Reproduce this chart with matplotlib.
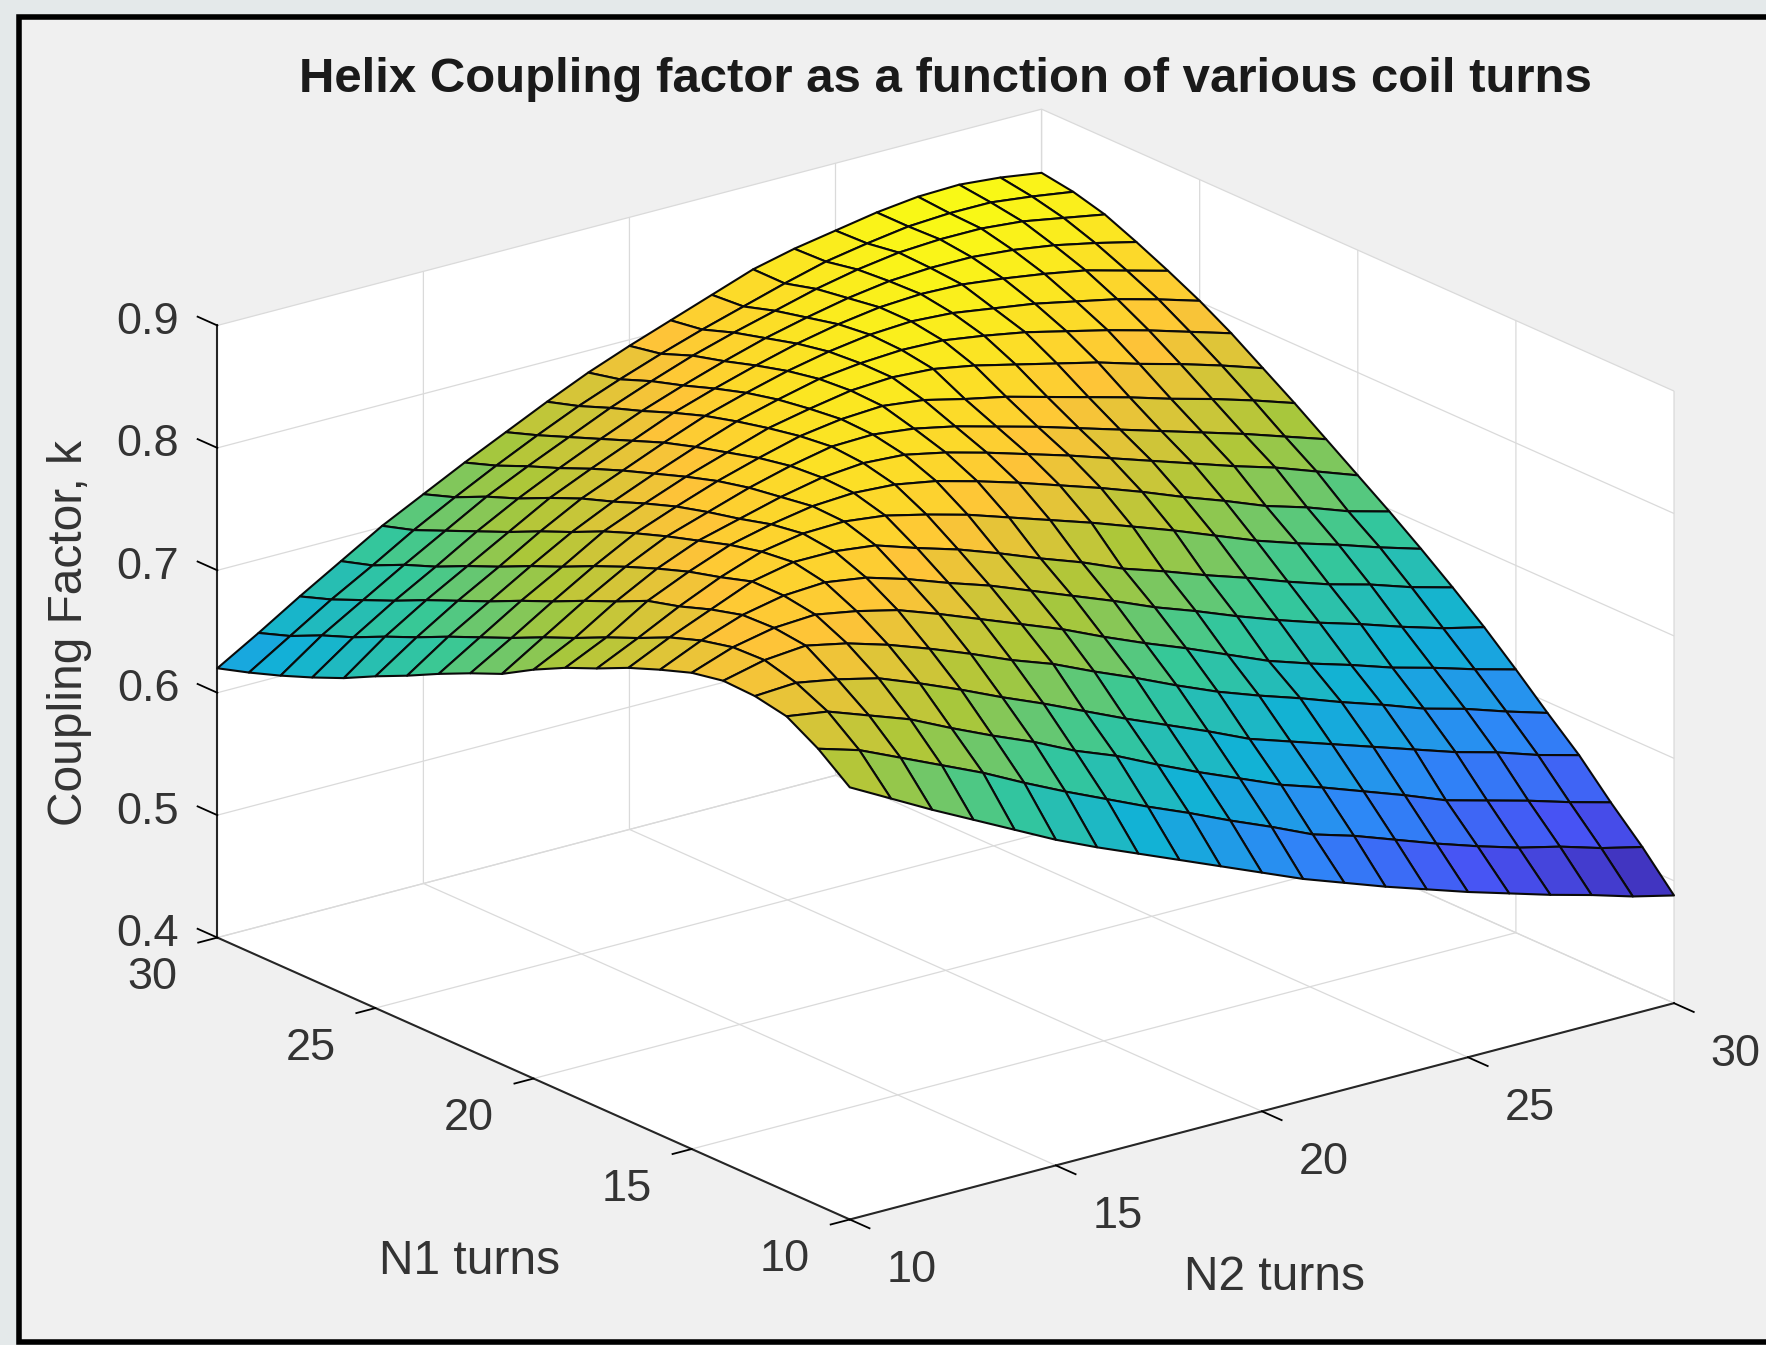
import numpy as np
import matplotlib
matplotlib.use("Agg")
import matplotlib.pyplot as plt
from matplotlib.colors import LinearSegmentedColormap
from matplotlib.patches import Rectangle

# N1 is the row, N2 the column
n1_turns = list(range(10, 31))
n2_turns = list(range(10, 31))

k_n1_10 = [.753, .735, .717, .700, .683, .666, .651, .637, .623, .609, .595, .581, .569, .557, .546, .535, .525, .515, .506, .496, .488]
k_n1_11 = [.773, .763, .748, .733, .718, .701, .685, .670, .655, .641, .626, .612, .597, .587, .575, .563, .552, .542, .534, .524, .516]
k_n1_12 = [.788, .783, .771, .759, .743, .728, .714, .698, .685, .669, .654, .640, .626, .615, .603, .591, .578, .569, .560, .550, .541]
k_n1_13 = [.793, .795, .789, .781, .768, .754, .739, .725, .710, .695, .681, .667, .652, .641, .630, .619, .608, .597, .588, .577, .568]
k_n1_14 = [.794, .802, .805, .798, .788, .776, .763, .749, .737, .722, .708, .693, .679, .667, .656, .644, .633, .621, .612, .601, .591]
k_n1_15 = [.789, .801, .808, .810, .804, .796, .784, .771, .758, .745, .730, .716, .703, .689, .675, .664, .654, .643, .634, .624, .615]
k_n1_16 = [.780, .795, .807, .814, .816, .811, .801, .789, .778, .765, .752, .739, .725, .713, .700, .688, .677, .667, .656, .646, .638]
k_n1_17 = [.770, .786, .800, .814, .821, .821, .817, .806, .796, .784, .771, .759, .745, .734, .722, .711, .699, .688, .679, .668, .659]
k_n1_18 = [.758, .774, .791, .806, .818, .824, .825, .821, .813, .804, .793, .782, .771, .759, .747, .734, .721, .710, .700, .689, .679]
k_n1_19 = [.747, .763, .784, .799, .812, .820, .826, .828, .826, .820, .811, .801, .790, .779, .767, .754, .742, .729, .719, .707, .698]
k_n1_20 = [.734, .751, .772, .790, .804, .813, .822, .829, .832, .830, .823, .814, .804, .794, .783, .772, .761, .750, .740, .728, .716]
k_n1_21 = [.719, .740, .761, .780, .796, .807, .818, .827, .834, .835, .831, .824, .815, .806, .796, .786, .776, .766, .756, .745, .734]
k_n1_22 = [.708, .728, .749, .769, .787, .800, .812, .822, .831, .836, .838, .834, .826, .819, .810, .801, .792, .782, .773, .763, .752]
k_n1_23 = [.696, .717, .738, .757, .777, .791, .804, .815, .826, .833, .839, .841, .839, .833, .825, .817, .809, .799, .790, .780, .769]
k_n1_24 = [.683, .706, .726, .746, .765, .781, .795, .808, .820, .829, .837, .841, .843, .842, .837, .831, .823, .815, .806, .796, .786]
k_n1_25 = [.671, .694, .715, .734, .754, .772, .786, .800, .813, .823, .832, .839, .844, .846, .844, .839, .834, .827, .820, .811, .801]
k_n1_26 = [.658, .683, .704, .723, .742, .761, .776, .790, .804, .815, .825, .834, .841, .846, .848, .847, .843, .838, .832, .823, .814]
k_n1_27 = [.647, .671, .692, .711, .731, .749, .765, .780, .794, .806, .817, .827, .835, .842, .847, .849, .849, .846, .841, .834, .826]
k_n1_28 = [.637, .661, .681, .701, .720, .739, .755, .770, .785, .798, .810, .820, .829, .838, .845, .850, .852, .852, .849, .843, .837]
k_n1_29 = [.628, .649, .670, .689, .709, .727, .744, .760, .775, .788, .800, .811, .821, .831, .840, .846, .851, .853, .853, .849, .844]
k_n1_30 = [.620, .640, .661, .681, .701, .718, .735, .751, .767, .782, .795, .807, .819, .831, .839, .845, .851, .855, .856, .853, .848]

coupling = [k_n1_10, k_n1_11, k_n1_12, k_n1_13, k_n1_14, k_n1_15, k_n1_16,
            k_n1_17, k_n1_18, k_n1_19, k_n1_20, k_n1_21, k_n1_22, k_n1_23,
            k_n1_24, k_n1_25, k_n1_26, k_n1_27, k_n1_28, k_n1_29, k_n1_30]

turn_ticks = [10, 15, 20, 25, 30]
k_ticks = [0.4, 0.5, 0.6, 0.7, 0.8, 0.9]

W, H = 1766, 1345
plt.rcParams['font.family'] = ['Liberation Sans', 'DejaVu Sans']

parula = LinearSegmentedColormap.from_list('parula', [
    (0.2422, 0.1504, 0.6603), (0.2810, 0.3228, 0.9579),
    (0.1786, 0.5289, 0.9682), (0.0689, 0.6948, 0.8394),
    (0.2161, 0.7843, 0.5923), (0.6720, 0.7793, 0.2227),
    (0.9970, 0.7659, 0.2199), (0.9769, 0.9839, 0.0805)])

fig = plt.figure(figsize=(W / 100, H / 100), dpi=100, facecolor='#e4e9ea')

# panel behind the axes, black frame runs off the right edge
fig.add_artist(Rectangle((19 / W, 3 / H), (W + 20) / W, (H - 20) / H, transform=fig.transFigure,
                         facecolor='#f0f0f0', edgecolor='black', linewidth=4, zorder=-5))

S = 1345
ax = fig.add_axes([255 / W, -10 / H, S / W, S / H], projection='3d', proj_type='ortho')
ax.patch.set_visible(False)
ax.view_init(elev=20, azim=-127.5)
ax.set_box_aspect((1, 1, 0.627), zoom=1.16)

X, Y = np.meshgrid(n2_turns, n1_turns)
Z = np.array(coupling)
surf = ax.plot_surface(X, Y, Z, rstride=1, cstride=1, cmap=parula, vmin=0.488, vmax=0.856,
                       shade=False, edgecolor='#0a0a0a', linewidth=1.5, antialiased=True)
surf.set_clip_on(False)  # axes square is narrower than the plot box

ax.set_xlim(10, 30, view_margin=0)
ax.set_ylim(10, 30, view_margin=0)
ax.set_zlim(0.4, 0.9, view_margin=0)
ax.set_xticks(turn_ticks)
ax.set_yticks(turn_ticks)
ax.set_zticks(k_ticks)
ax.set_zticklabels(['0.4', '0.5', '0.6', '0.7', '0.8', '0.9'])

for axis in (ax.xaxis, ax.yaxis, ax.zaxis):
    axis.set_pane_color('white')
    axis.pane.set_edgecolor('none')
    axis.line.set_color('#262626')
    axis.line.set_linewidth(1.5)
    axis._axinfo['grid'].update(color='#dadada', linewidth=0.9)
    axis._axinfo['tick'].update(color='#262626')
    axis._axinfo['tick']['linewidth'] = {True: 1.3, False: 0.5}
ax.xaxis._axinfo['tick'].update(inward_factor=0.39, outward_factor=0.0)
ax.yaxis._axinfo['tick'].update(inward_factor=0.29, outward_factor=0.0)
ax.zaxis._axinfo['tick'].update(inward_factor=0.0, outward_factor=0.39)
ax.zaxis._get_tickdir = lambda pos: 1  # z ticks run along N1 like MATLAB

ax.tick_params(labelsize=32.5, labelcolor='#333333')
ax.tick_params(axis='x', pad=21)
ax.tick_params(axis='y', pad=16.5)
ax.tick_params(axis='z', pad=16)
for label in ax.get_xticklabels():
    label.set_ha('left')
    label.set_va('center')
for label in ax.get_yticklabels():
    label.set_ha('right')
    label.set_va('center')
for label in ax.get_zticklabels():
    label.set_va('center')

fig.text(945 / W, 1 - 79 / H, 'Helix Coupling factor as a function of various coil turns',
         fontsize=35.4, fontweight='bold', color='#1a1a1a', ha='center', va='center')
fig.text(470 / W, 1 - 1262 / H, 'N1 turns', fontsize=34.5, color='#333333', ha='center', va='center')
fig.text(1275 / W, 1 - 1278 / H, 'N2 turns', fontsize=34.5, color='#333333', ha='center', va='center')
fig.text(70 / W, 1 - 633 / H, 'Coupling Factor, k', fontsize=34.5, color='#333333',
         rotation=90, ha='center', va='center')

fig.savefig('out.png', dpi=100, facecolor=fig.get_facecolor())
